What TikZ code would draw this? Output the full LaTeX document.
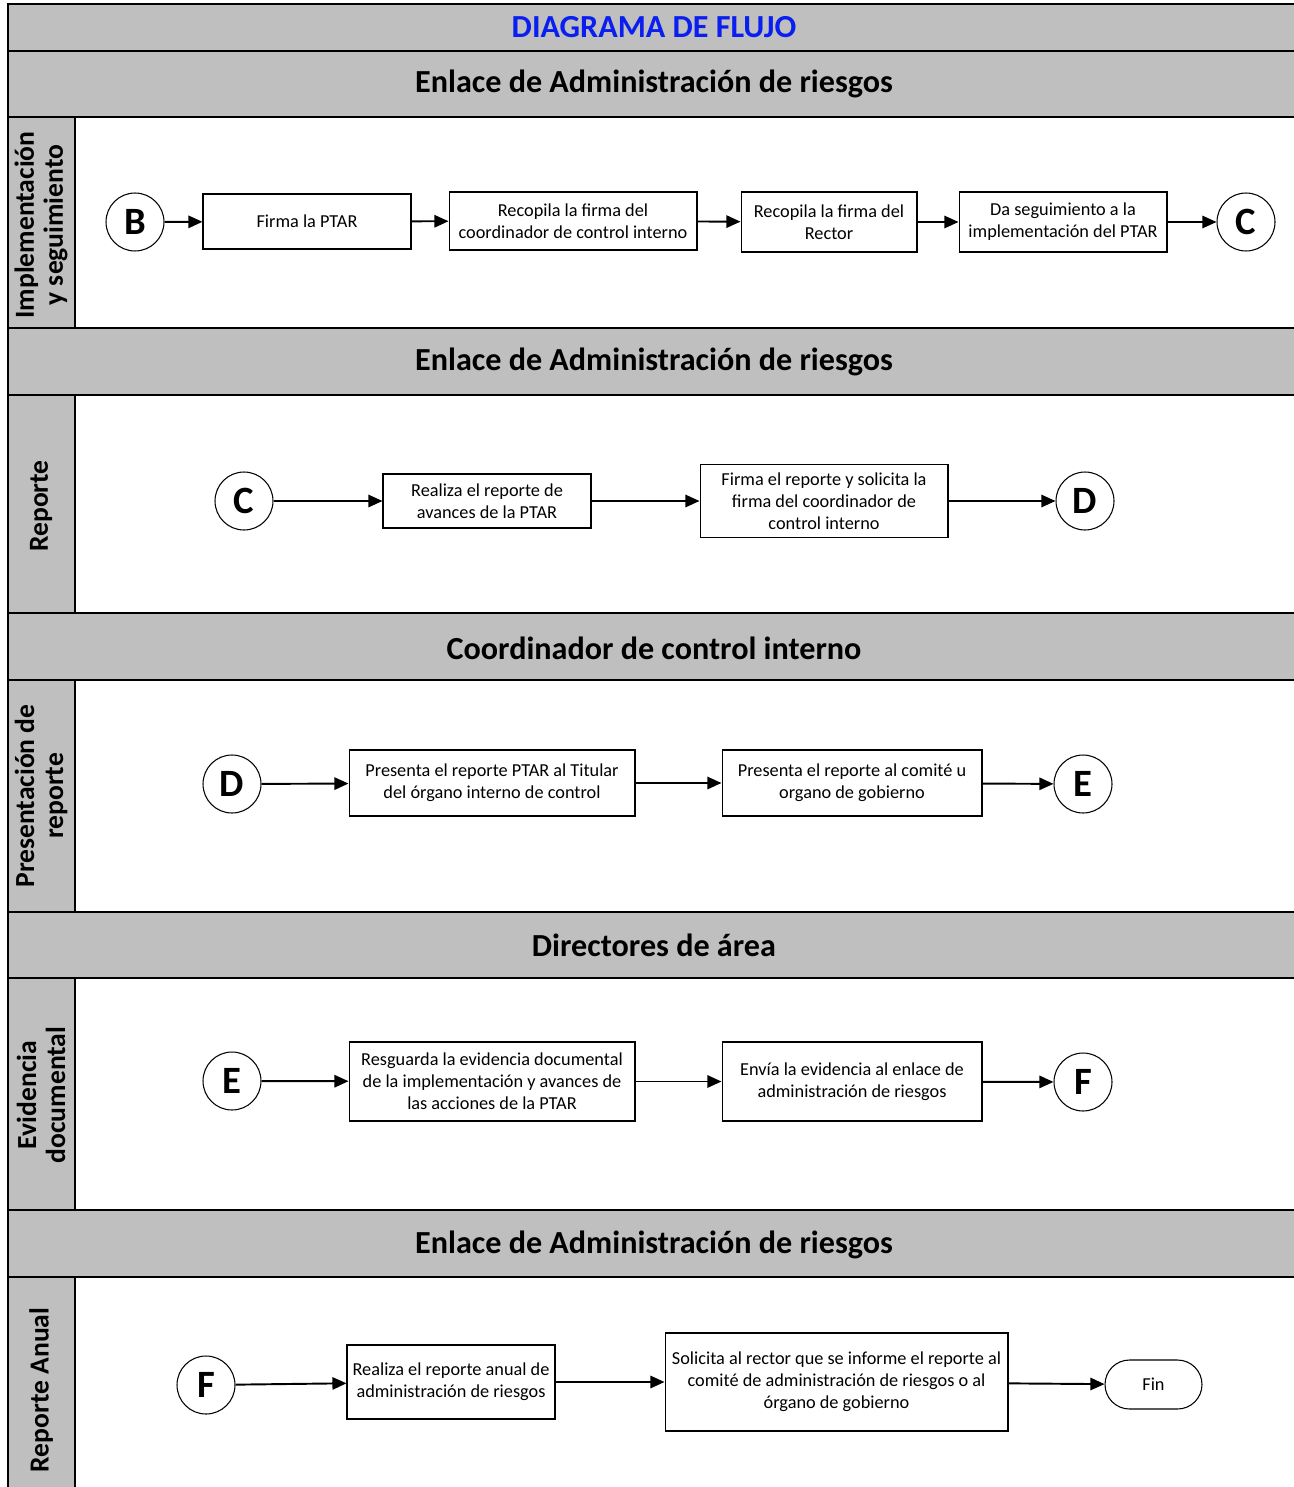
\documentclass[tikz,border=0pt]{standalone}
\usepackage{fontspec}
\setmainfont{Carlito}
\usetikzlibrary{arrows.meta}
\definecolor{bandgray}{RGB}{191,191,191}
\definecolor{titleblue}{RGB}{10,30,240}

\begin{document}
\begin{tikzpicture}[x=0.02cm, y=-0.02cm,
    band/.style={fill=bandgray, draw=black, line width=0.9pt},
    proc/.style={draw, line width=0.6pt, align=center, inner sep=1pt,
      font=\fontsize{10.4}{12.5}\selectfont},
    conn/.style={draw, circle, line width=0.6pt, minimum size=1.16cm, inner sep=0pt,
      font=\fontsize{22}{22}\selectfont\bfseries},
    term/.style={draw, line width=0.6pt, rounded corners=0.49cm, minimum width=1.94cm,
      minimum height=0.98cm, font=\fontsize{10.4}{12.5}\selectfont},
    flow/.style={line width=1.1pt, -{Triangle[length=8pt,width=7pt]}},
    hdr/.style={font=\fontsize{18.3}{20}\selectfont\bfseries},
    lane/.style={rotate=90, align=center, font=\fontsize{15.7}{16.5}\selectfont\bfseries}]
  \useasboundingbox (0,0) rectangle (1294,1487);

  % bands and lane columns
  \draw [band] (8,4) rectangle (1300,51);
  \draw [band] (8,51) rectangle (1300,117);
  \draw [band] (8,328) rectangle (1300,395);
  \draw [band] (8,613) rectangle (1300,680);
  \draw [band] (8,912) rectangle (1300,978);
  \draw [band] (8,1210) rectangle (1300,1277);
  \draw [band] (8,117) rectangle (75,328);
  \draw [band] (8,395) rectangle (75,613);
  \draw [band] (8,680) rectangle (75,912);
  \draw [band] (8,978) rectangle (75,1210);
  \draw [band] (8,1277) rectangle (75,1500);
  \draw [line width=0.9pt] (8,117) -- (8,1500);

  \node [hdr, text=titleblue] (title) at (654,27) {DIAGRAMA DE FLUJO};
  \node [hdr] (h1) at (654,84) {Enlace de Administración de riesgos};
  \node [hdr] (h2) at (654,362) {Enlace de Administración de riesgos};
  \node [hdr] (h3) at (654,648) {Coordinador de control interno};
  \node [hdr] (h4) at (654,945) {Directores de área};
  \node [hdr] (h5) at (654,1245) {Enlace de Administración de riesgos};

  \node [lane] (l1) at (41,225) {Implementación\\y seguimiento};
  \node [lane] (l2) at (41,506) {Reporte};
  \node [lane] (l3) at (41,796) {Presentación de\\reporte};
  \node [lane] (l4) at (41,1095) {Evidencia\\documental};
  \node [lane] (l5) at (41,1390) {Reporte Anual};

  % implementacion y seguimiento
  \node [conn] (B) at (135,222) {B};
  \node [proc, minimum width=4.16cm, minimum height=1.1cm] (firma) at (307,221.5) {Firma la PTAR};
  \node [proc, minimum width=4.96cm, minimum height=1.16cm] (recoord) at (573,221) {Recopila la firma del\\coordinador de control interno};
  \node [proc, minimum width=3.52cm, minimum height=1.2cm] (rerector) at (829,222) {Recopila la firma del\\Rector};
  \node [proc, minimum width=4.16cm, minimum height=1.2cm] (seguim) at (1063,222) {Da seguimiento a la\\implementación del PTAR};
  \node [conn] (C1) at (1246,222) {C};
  \draw [flow] (B) -- (firma);
  \draw [flow] (firma) -- (recoord);
  \draw [flow] (recoord) -- (rerector);
  \draw [flow] (rerector) -- (seguim);
  \draw [flow] (seguim) -- (C1);

  % reporte
  \node [conn] (C2) at (244,501) {C};
  \node [proc, minimum width=4.16cm, minimum height=1.08cm] (avances) at (487,501) {Realiza el reporte de\\avances de la PTAR};
  \node [proc, minimum width=4.96cm, minimum height=1.46cm] (firmarep) at (824,501) {Firma el reporte y solicita la\\firma del coordinador de\\control interno};
  \node [conn] (D1) at (1085,501) {D};
  \draw [flow] (C2) -- (avances);
  \draw [flow] (avances) -- (firmarep);
  \draw [flow] (firmarep) -- (D1);

  % presentacion de reporte
  \node [conn] (D2) at (232,784) {D};
  \node [proc, minimum width=5.72cm, minimum height=1.32cm] (titular) at (492,783) {Presenta el reporte PTAR al Titular\\del órgano interno de control};
  \node [proc, minimum width=5.2cm, minimum height=1.32cm] (comite) at (852,783) {Presenta el reporte al comité u\\organo de gobierno};
  \node [conn] (E1) at (1083,784) {E};
  \draw [flow] (D2) -- (titular);
  \draw [flow] (titular) -- (comite);
  \draw [flow] (comite) -- (E1);

  % evidencia documental
  \node [conn] (E2) at (232,1081) {E};
  \node [proc, minimum width=5.72cm, minimum height=1.58cm] (resguarda) at (492,1081.5) {Resguarda la evidencia documental\\de la implementación y avances de\\las acciones de la PTAR};
  \node [proc, minimum width=5.2cm, minimum height=1.58cm] (envia) at (852,1081.5) {Envía la evidencia al enlace de\\administración de riesgos};
  \node [conn] (F1) at (1083,1082) {F};
  \draw [flow] (E2) -- (resguarda);
  \draw [flow] (resguarda) -- (envia);
  \draw [flow] (envia) -- (F1);

  % reporte anual
  \node [conn] (F2) at (206,1385) {F};
  \node [proc, minimum width=4.16cm, minimum height=1.48cm] (anual) at (451,1382) {Realiza el reporte anual de\\administración de riesgos};
  \node [proc, minimum width=6.86cm, minimum height=1.96cm] (solicita) at (836.5,1382) {Solicita al rector que se informe el reporte al\\comité de administración de riesgos o al\\órgano de gobierno};
  \node [term] (fin) at (1153.5,1384.5) {Fin};
  \draw [flow] (F2) -- (anual);
  \draw [flow] (anual) -- (solicita);
  \draw [flow] (solicita) -- (fin);
\end{tikzpicture}
\end{document}
